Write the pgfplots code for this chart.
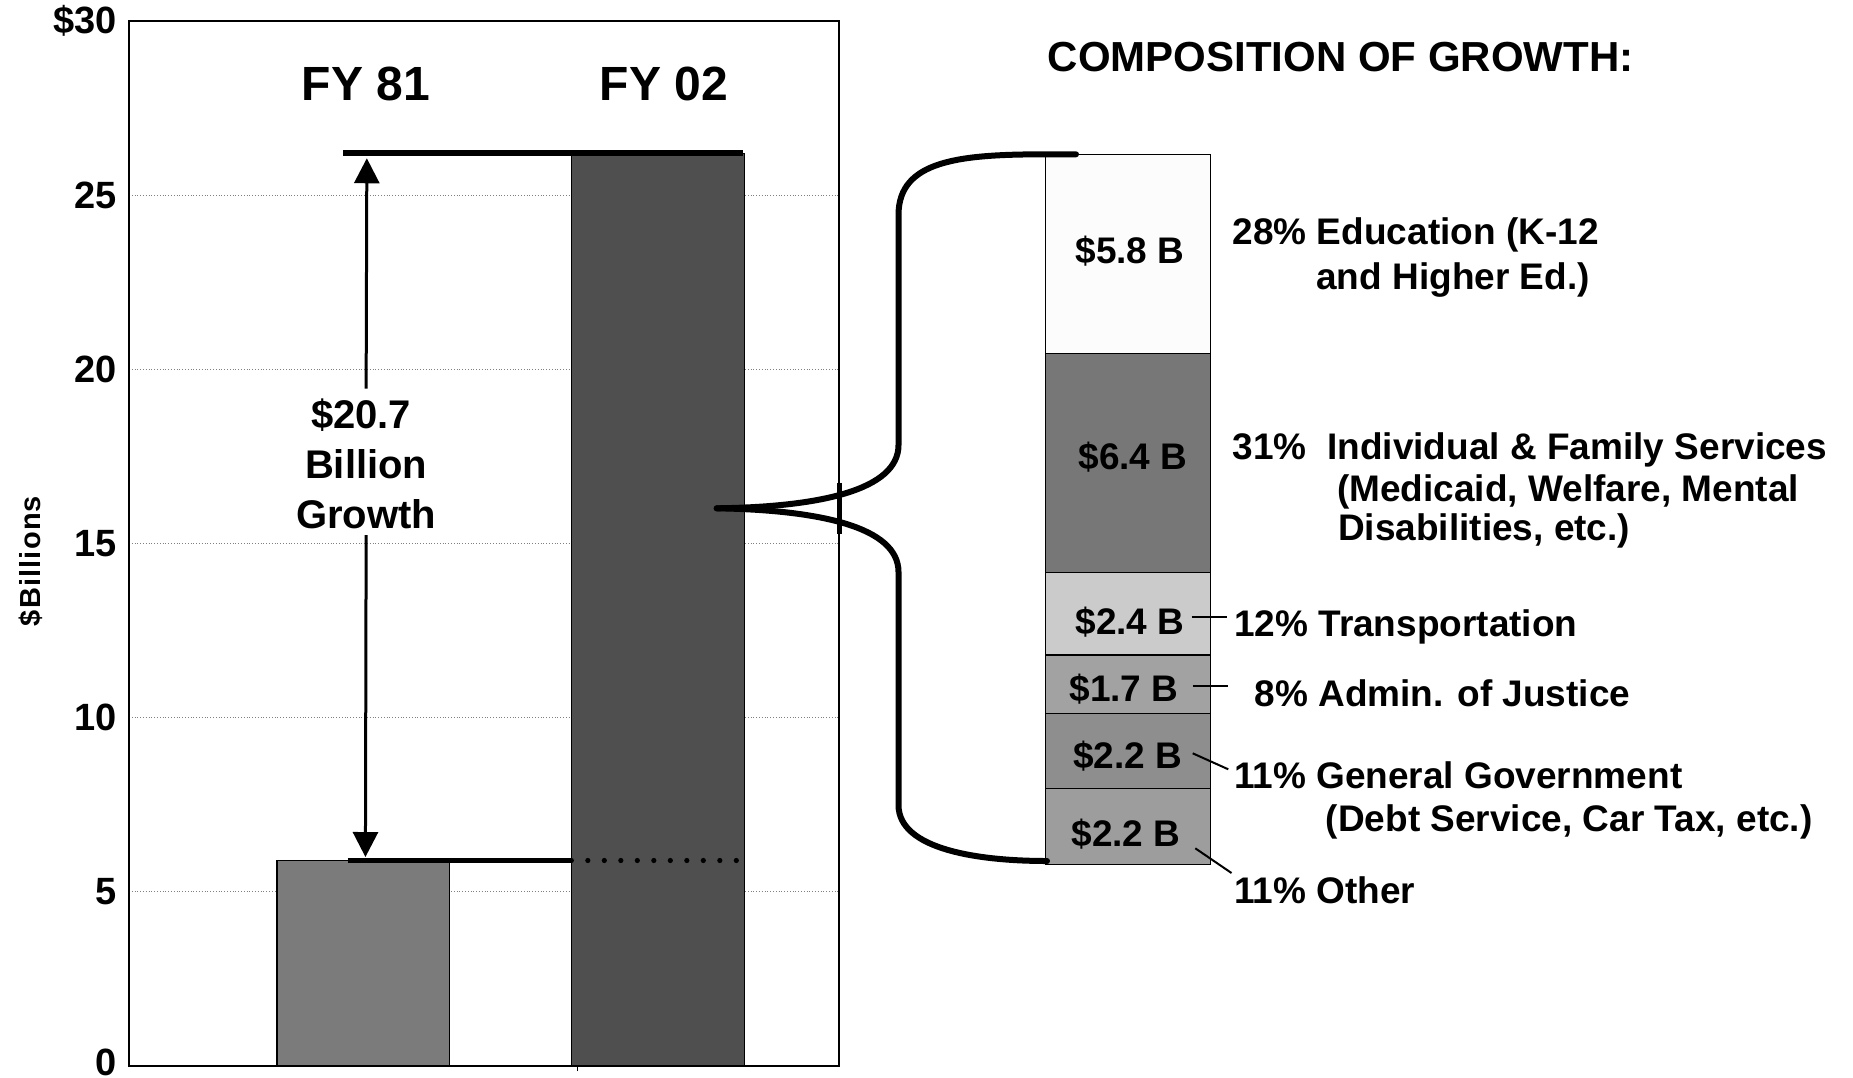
\documentclass[border=0pt]{standalone}
\usepackage{fontspec}
\setmainfont{Liberation Sans}
\usepackage{pgfplots}
\pgfplotsset{compat=1.18}
\usetikzlibrary{arrows.meta}
\definecolor{cFYa}{HTML}{7B7B7B}
\definecolor{cFYb}{HTML}{4F4F4F}
\definecolor{cEdu}{HTML}{FCFCFC}
\definecolor{cIFS}{HTML}{777777}
\definecolor{cTra}{HTML}{CBCBCB}
\definecolor{cAdm}{HTML}{A2A2A2}
\definecolor{cGG}{HTML}{8E8E8E}
\definecolor{cOth}{HTML}{9D9D9D}
\tikzset{stlab/.style={anchor=base, font=\fontsize{18.5}{18.5}\selectfont\bfseries},
         catlab/.style={anchor=base west, inner sep=0pt, font=\fontsize{18.5}{18.5}\selectfont\bfseries}}
\begin{document}
\begin{tikzpicture}
\path[use as bounding box] (0,0) rectangle (926.5pt,-538.5pt);
% ---------------- main axis ----------------
\begin{axis}[
  at={(64.5pt,-533pt)}, anchor=south west,
  scale only axis, width=355pt, height=522.5pt,
  xmin=0, xmax=1, ymin=0, ymax=30,
  ytick={0,5,10,15,20,25,30},
  yticklabels={\raisebox{3.5pt}{0},5,10,15,20,25,\$30},
  xtick={0.631}, xticklabels={}, xtick pos=lower,
  tick align=outside, major tick length=2.5pt,
  ytick style={draw=none},
  xtick style={black, line width=0.5pt},
  ymajorgrids, grid style={densely dotted, gray, line width=0.5pt},
  axis line style={line width=0.7pt},
  /pgf/number format/assume math mode=true,
  yticklabel style={font=\fontsize{19}{19}\selectfont\bfseries, inner ysep=0pt},
  ybar, bar width=0.243, bar shift=0pt,
]
\addplot[fill=cFYa, draw=black, line width=0.6pt] coordinates {(0.33,5.9)};
\addplot[fill=cFYb, draw=black, line width=0.6pt] coordinates {(0.745,26.2)};
% annotations
\draw[line width=3pt] (axis cs:0.3018,26.2) -- (axis cs:0.865,26.2);
\draw[line width=2.75pt] (axis cs:0.308,5.9) -- (axis cs:0.623,5.9);
\draw[line width=2.6pt, line cap=round, dash pattern=on 0pt off 8.25pt] (axis cs:0.623,5.9) -- (axis cs:0.857,5.9);
\draw[line width=1.5pt, -{Triangle[width=12.5pt,length=12.5pt]}] (axis cs:0.334,19.45) -- (axis cs:0.335,26.06);
\draw[line width=1.5pt, -{Triangle[width=12.5pt,length=12.5pt]}] (axis cs:0.334,15.24) -- (axis cs:0.333,6.0);
\node[anchor=base, font=\fontsize{24}{24}\selectfont\bfseries] at (axis cs:0.3334,27.71) {FY 81};
\node[anchor=base, font=\fontsize{24}{24}\selectfont\bfseries] at (axis cs:0.7535,27.71) {FY 02};
\node[anchor=base, font=\fontsize{20}{20}\selectfont\bfseries] at (axis cs:0.327,18.29) {\$20.7};
\node[anchor=base, font=\fontsize{20}{20}\selectfont\bfseries] at (axis cs:0.334,16.86) {Billion};
\node[anchor=base, font=\fontsize{20}{20}\selectfont\bfseries] at (axis cs:0.334,15.43) {Growth};
\end{axis}
% ---------------- composition stack ----------------
\begin{axis}[
  at={(522.85pt,-432.15pt)}, anchor=south west,
  scale only axis, width=82.5pt, height=355pt,
  xmin=0, xmax=1, ymin=0, ymax=20.7,
  hide axis, clip=false,
  ybar stacked, bar width=1,
]
\addplot[fill=cOth, draw=black, line width=0.6pt] coordinates {(0.5,2.2)};
\addplot[fill=cGG,  draw=black, line width=0.6pt] coordinates {(0.5,2.2)};
\addplot[fill=cAdm, draw=black, line width=0.6pt] coordinates {(0.5,1.7)};
\addplot[fill=cTra, draw=black, line width=0.6pt] coordinates {(0.5,2.4)};
\addplot[fill=cIFS, draw=black, line width=0.6pt] coordinates {(0.5,6.4)};
\addplot[fill=cEdu, draw=black, line width=0.6pt] coordinates {(0.5,5.8)};
\end{axis}
% ---------------- annotations in pixel units ----------------
\begin{scope}[x=0.5pt, y=-0.5pt]
% labels inside the stack
\node[stlab] at (1130,263.3) {\$5.8 B};
\node[stlab] at (1133,469.6) {\$6.4 B};
\node[stlab] at (1130,634) {\$2.4 B};
\node[stlab] at (1124,701.7) {\$1.7 B};
\node[stlab] at (1127.5,768.3) {\$2.2 B};
\node[stlab] at (1126,846) {\$2.2 B};
\node[rotate=90, anchor=base, font=\fontsize{14.5}{14.5}\selectfont\bfseries\addfontfeatures{LetterSpace=4}] at (40,561) {\$Billions};
% brace
\draw[line width=3pt, line cap=round] (716.7,508.3) .. controls (820,507) and (898.5,490) .. (898.5,445) -- (898.5,215) .. controls (898.5,160) and (960,154.3) .. (1047,154.3) -- (1076,154.3);
\draw[line width=3pt, line cap=round] (716.7,508.3) .. controls (820,510) and (898.5,527) .. (898.5,572) -- (898.5,805) .. controls (898.5,850) and (980,861) .. (1047,861);
\draw[line width=2.5pt] (839,482.7) -- (839,534);
% title
\node[anchor=base, font=\fontsize{21}{21}\selectfont\bfseries] at (1340.7,71.4) {COMPOSITION OF GROWTH:};
% category labels
\node[catlab] at (1232.3,244.3) {28\% Education (K-12};
\node[catlab] at (1316,289.3) {and Higher Ed.)};
\node[catlab] at (1232.3,459.3) {31\%\ \ Individual \& Family Services};
\node[catlab] at (1336.7,501) {(Medicaid, Welfare, Mental};
\node[catlab] at (1337.7,540) {Disabilities, etc.)};
\node[catlab] at (1233.7,636.2) {12\% Transportation};
\node[catlab] at (1254.2,706.8) {8\% Admin. of Justice};
\node[catlab] at (1233.7,788.9) {11\% General Government};
\node[catlab] at (1325.5,831.2) {(Debt Service, Car Tax, etc.)};
\node[catlab] at (1233.7,903) {11\% Other};
% leader lines
\draw[line width=1pt] (1191.7,616.7) -- (1226.7,616.7);
\draw[line width=1pt] (1192.7,686) -- (1228.3,686);
\draw[line width=1pt] (1192.7,753.3) -- (1228.3,769.3);
\draw[line width=1pt] (1195.3,848.3) -- (1231.5,873);
\end{scope}
\end{tikzpicture}
\end{document}
